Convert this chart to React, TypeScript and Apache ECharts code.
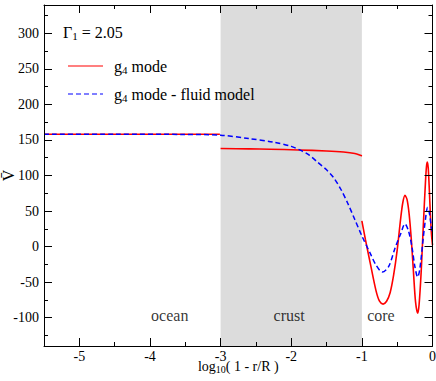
import React, { useEffect, useRef } from "react";
import * as echarts from "echarts";

// ---- data ----
const xMajorTicks = [-5, -4, -3, -2, -1, 0];
const xMinorTicks = [-5.5, -4.5, -3.5, -2.5, -1.5, -0.5];
const yMajorTicks = [-100, -50, 0, 50, 100, 150, 200, 250, 300];
const yMinorTicks = [-125, -75, -25, 25, 75, 125, 175, 225, 275, 325];

const redOcean = [[-5.5, 158], [-5, 158], [-4.5, 158], [-4, 158], [-3.5, 158], [-3.01, 158]];
const redCrust = [[-3.0, 138], [-2.6, 137.5], [-2.3, 137], [-1.9, 136], [-1.5, 134.5], [-1.26, 133], [-1.1, 131], [-1.02, 128.5], [-1.0, 127.5]];
const redCore = [
  [-1.0, 36], [-0.95, 10], [-0.88, -24], [-0.8, -62], [-0.75, -77], [-0.7, -81], [-0.65, -77],
  [-0.6, -65], [-0.55, -40], [-0.5, -5], [-0.45, 40], [-0.42, 62], [-0.39, 72], [-0.36, 66],
  [-0.33, 45], [-0.3, 10], [-0.27, -35], [-0.24, -78], [-0.21, -94], [-0.19, -82], [-0.16, -35],
  [-0.13, 30], [-0.1, 90], [-0.085, 113], [-0.073, 119], [-0.06, 110], [-0.045, 80], [-0.03, 45],
  [-0.015, 18], [0, 2],
];
const blueFluid = [
  [-5.5, 158], [-4.5, 158], [-3.5, 157.8], [-3.0, 156.8], [-2.6, 152], [-2.25, 147], [-2.0, 141],
  [-1.88, 136], [-1.75, 129], [-1.63, 119], [-1.5, 108], [-1.4, 97], [-1.3, 81], [-1.2, 61],
  [-1.1, 38], [-1.0, 15], [-0.88, -10], [-0.8, -26], [-0.71, -36], [-0.62, -28], [-0.53, -2],
  [-0.45, 18], [-0.39, 32], [-0.34, 22], [-0.29, -1], [-0.25, -28], [-0.21, -43], [-0.18, -32],
  [-0.13, 13], [-0.1, 38], [-0.07, 55], [-0.05, 50], [-0.03, 38], [-0.015, 26], [0, 20],
];
const regionLabels = [
  { name: "ocean", value: [-3.72, -97] },
  { name: "crust", value: [-2.03, -97] },
  { name: "core", value: [-0.73, -97] },
];

const FONT = "Liberation Serif";

function withGap(...segs: number[][][]) {
  const out: (number | null)[][] = [];
  segs.forEach((s, i) => {
    if (i > 0) out.push([s[0][0], null]);
    s.forEach((p) => out.push(p));
  });
  return out;
}

const subRich = {
  a: { fontSize: 16, fontFamily: FONT, color: "#000", lineHeight: 18 },
  s: { fontSize: 11, fontFamily: FONT, color: "#000", verticalAlign: "bottom", lineHeight: 18 },
  gap: { width: 6 },
};

const tickRich = { v: { fontSize: 14, fontFamily: FONT, color: "#000" } };
const tickFmt = (v: number) => "{v|" + v + "}";

function xAxisDef(position: "top" | "bottom", ticks: number[], len: number, labels: boolean, line: boolean) {
  return {
    type: "value",
    position,
    min: -5.5,
    max: 0,
    z: 5,
    axisLine: { show: line, onZero: false, lineStyle: { color: "#000", width: 1 } },
    axisTick: { show: true, inside: true, length: len, customValues: ticks, lineStyle: { color: "#000", width: 1 } },
    axisLabel: labels
      ? { show: true, customValues: xMajorTicks, margin: 3, fontSize: 14, color: "#000", fontFamily: FONT, formatter: tickFmt, rich: tickRich }
      : { show: false },
    splitLine: { show: false },
  };
}

function yAxisDef(position: "left" | "right", ticks: number[], len: number, labels: boolean, line: boolean) {
  return {
    type: "value",
    position,
    min: -140,
    max: 340,
    z: 5,
    axisLine: { show: line, onZero: false, lineStyle: { color: "#000", width: 1 } },
    axisTick: { show: true, inside: true, length: len, customValues: ticks, lineStyle: { color: "#000", width: 1 } },
    axisLabel: labels
      ? { show: true, customValues: yMajorTicks, margin: 5, fontSize: 14, color: "#000", fontFamily: FONT, formatter: tickFmt, rich: tickRich }
      : { show: false },
    splitLine: { show: false },
  };
}

const solidIcon = "path://M0,0H35V1H0Z";
const dashedIcon = "path://M0,0H5V1H0Z M8,0H13V1H8Z M16,0H21V1H16Z M24,0H29V1H24Z M32,0H35V1H32Z";

export default function App() {
  const ref = useRef<HTMLDivElement>(null);
  useEffect(() => {
    const chart = echarts.init(ref.current!, undefined, { renderer: "svg" });
    const xs: any[] = [
      {
        ...xAxisDef("bottom", xMajorTicks, 8, true, true),
        name: "{a|log}{s|10}{a|( 1 - r/R )}",
        nameLocation: "middle",
        nameGap: 12,
        nameMoveOverlap: false,
        nameTextStyle: {
          rich: {
            a: { fontSize: 14, fontFamily: FONT, color: "#000", lineHeight: 16 },
            s: { fontSize: 10, fontFamily: FONT, color: "#000", verticalAlign: "bottom", lineHeight: 16 },
          },
        },
      },
      xAxisDef("bottom", xMinorTicks, 4, false, false),
      xAxisDef("top", xMajorTicks, 8, false, true),
      xAxisDef("top", xMinorTicks, 4, false, false),
    ];
    const ys: any[] = [
      {
        ...yAxisDef("left", yMajorTicks, 8, true, true),
        name: "V\u0304",
        nameLocation: "middle",
        nameGap: 28,
        nameMoveOverlap: false,
        nameTextStyle: { fontSize: 16, fontFamily: FONT, color: "#000" },
      },
      yAxisDef("left", yMinorTicks, 4, false, false),
      yAxisDef("right", yMajorTicks, 8, false, true),
      yAxisDef("right", yMinorTicks, 4, false, false),
    ];
    chart.setOption({
      animation: false,
      textStyle: { fontFamily: FONT, color: "#000" },
      grid: { left: 44, right: 3.5, top: 5, bottom: 35, containLabel: false, outerBoundsMode: "none" },
      xAxis: xs,
      yAxis: ys,
      legend: {
        data: [
          { name: "g4 mode", icon: solidIcon, itemStyle: { color: "#ff0000" } },
          { name: "g4 mode - fluid model", icon: dashedIcon, itemStyle: { color: "#0000ff" } },
        ],
        orient: "vertical",
        left: 63,
        top: 53,
        itemWidth: 35,
        itemHeight: 1.5,
        itemGap: 11,
        selectedMode: false,
        formatter: (n: string) =>
          n === "g4 mode" ? "{gap|}{a|g}{s|4}{a| mode}" : "{gap|}{a|g}{s|4}{a| mode - fluid model}",
        textStyle: { color: "#000", fontFamily: FONT, fontSize: 16, rich: subRich },
      },
      graphic: [
        {
          type: "text",
          left: 63,
          top: 24,
          style: {
            text: "{a|\u0393}{s|1}{a| = 2.05}",
            rich: subRich,
          },
        },
      ],
      series: [
        {
          name: "g4 mode",
          type: "line",
          data: withGap(redOcean, redCrust, redCore),
          symbol: "none",
          smooth: 0.3,
          connectNulls: false,
          lineStyle: { color: "#ff0000", width: 1.6 },
          itemStyle: { color: "#ff0000" },
          markArea: {
            silent: true,
            itemStyle: { color: "#dcdcdc" },
            data: [[{ xAxis: -3 }, { xAxis: -1 }]],
          },
        },
        {
          name: "g4 mode - fluid model",
          type: "line",
          data: blueFluid,
          symbol: "none",
          smooth: 0.3,
          lineStyle: { color: "#0000ff", width: 1.5, type: [5, 3] },
          itemStyle: { color: "#0000ff" },
        },
        {
          name: "regions",
          type: "scatter",
          data: regionLabels,
          symbolSize: 0,
          silent: true,
          label: {
            show: true,
            position: "inside",
            formatter: (p: any) => p.name,
            fontSize: 16,
            fontFamily: FONT,
            color: "#000",
          },
        },
      ],
    });
    return () => chart.dispose();
  }, []);
  return <div ref={ref} style={{ width: 436, height: 381, position: "absolute", left: 0, top: 0 }} />;
}
